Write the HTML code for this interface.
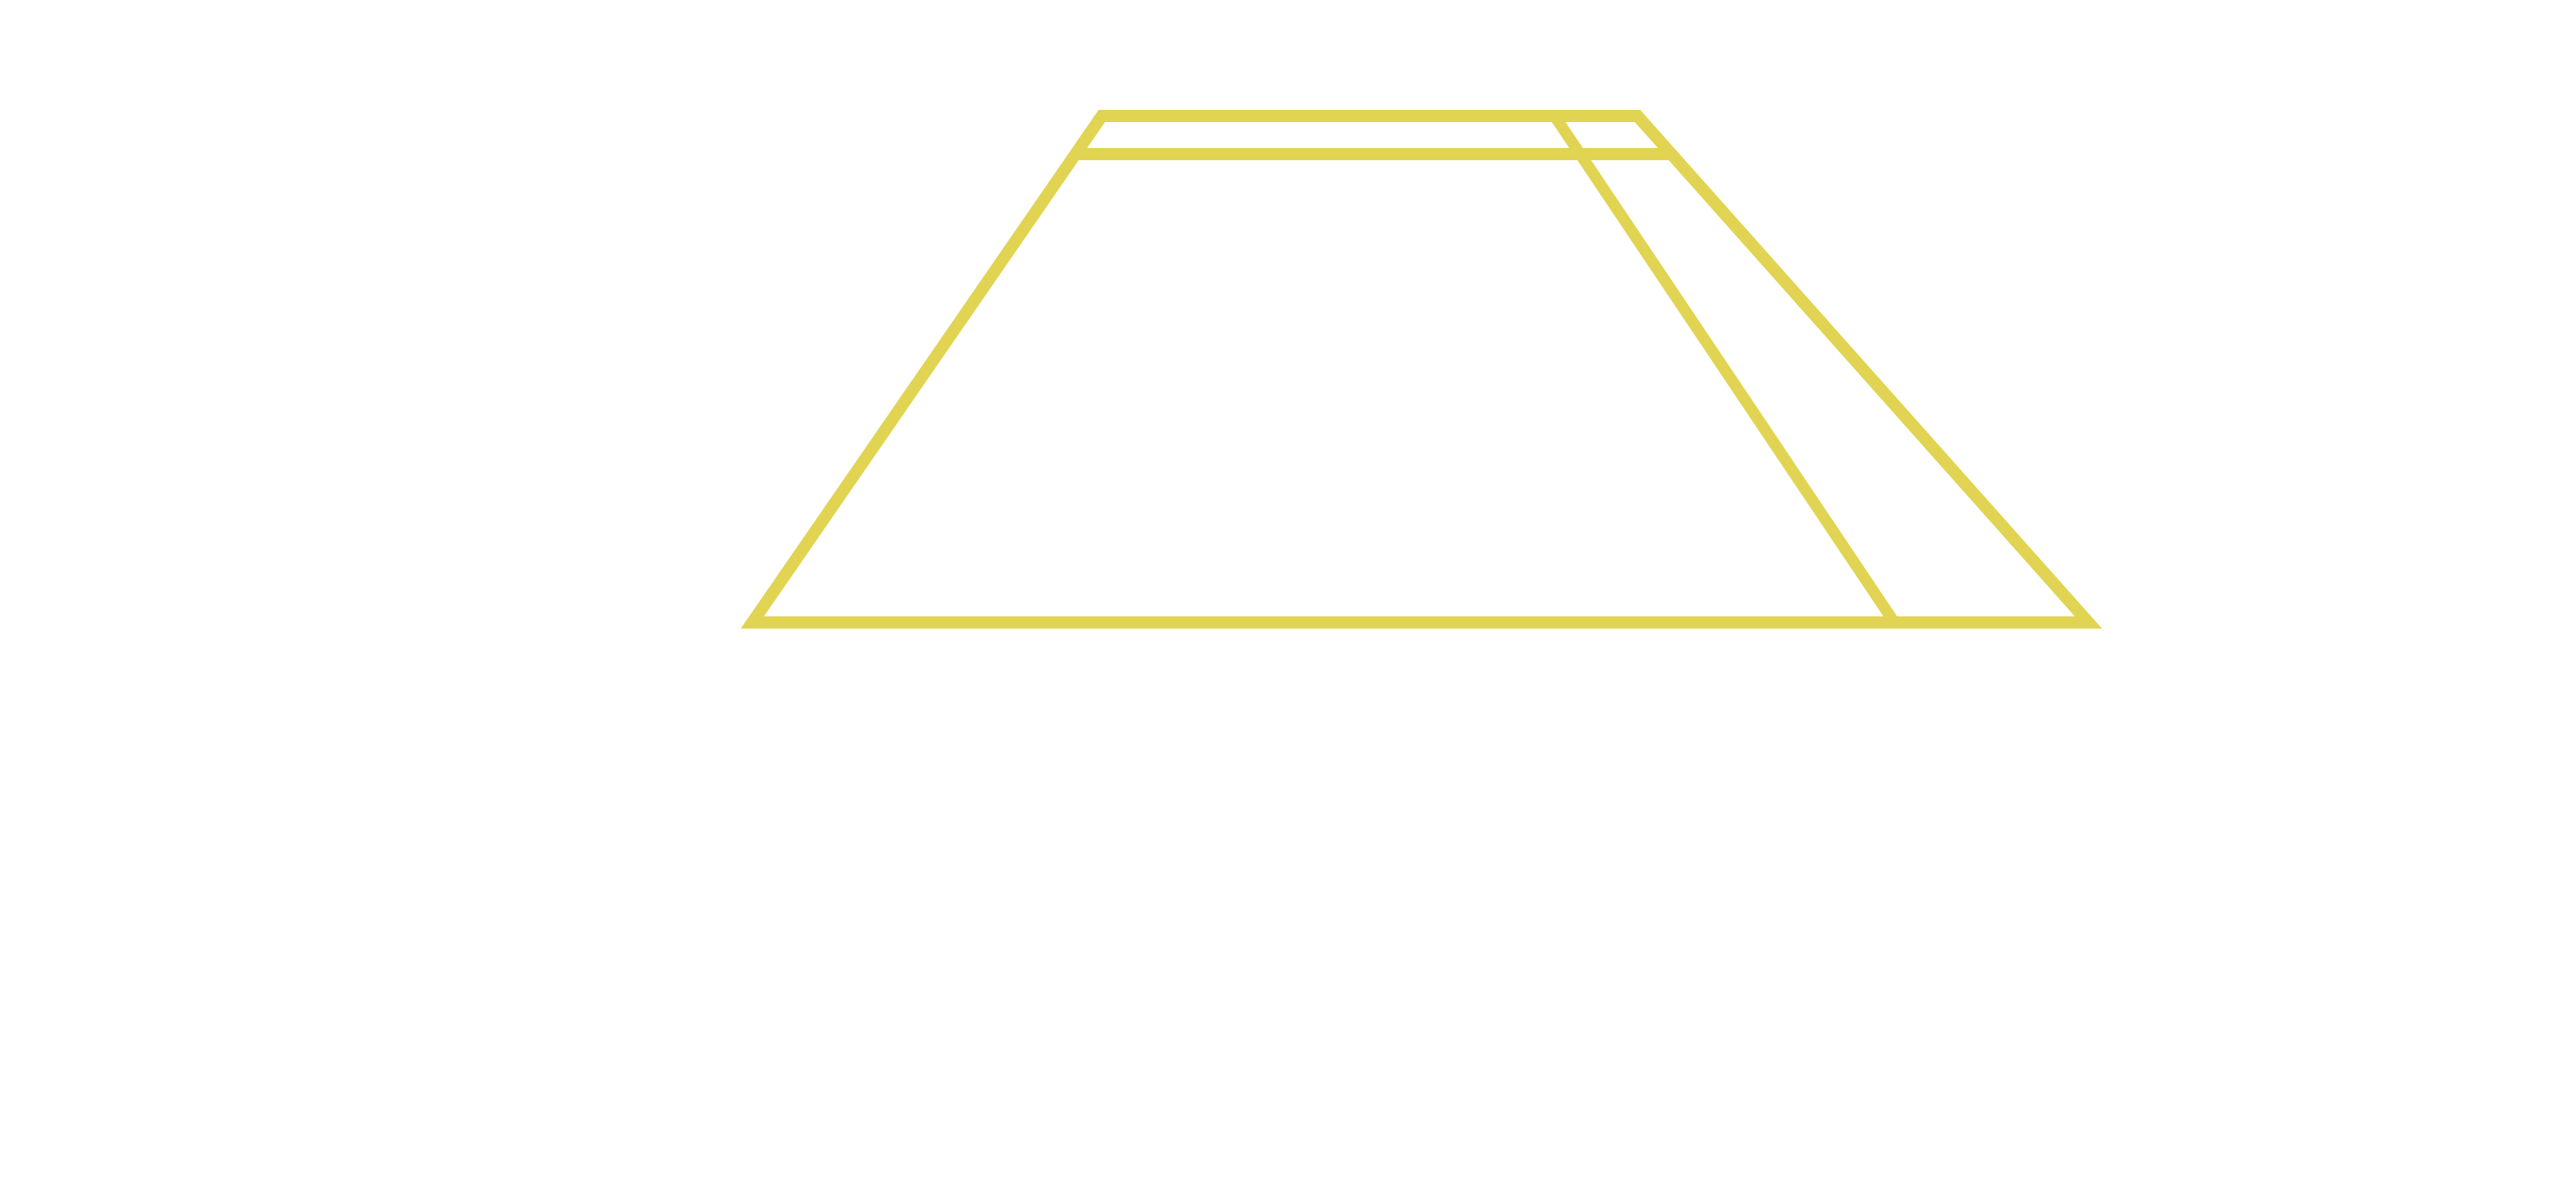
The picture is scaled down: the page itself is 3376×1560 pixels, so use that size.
<!DOCTYPE html>
<html><head><meta charset="utf-8"><style>html,body{margin:0;padding:0;background:#fff;width:3376px;height:1560px;overflow:hidden}</style></head>
<body>
<svg width="3376" height="1560" viewBox="0 0 3376 1560" xmlns="http://www.w3.org/2000/svg">
<g stroke="#e1d452" fill="none" stroke-linejoin="miter" stroke-miterlimit="10">
<polygon stroke-width="16" points="1444,152 2146,152 2737,816 986,816"/>
<line stroke-width="16" x1="1405" y1="202" x2="2190" y2="202"/>
<line stroke-width="15" x1="2040" y1="156" x2="2480" y2="812"/>
</g>
</svg>
</body></html>
